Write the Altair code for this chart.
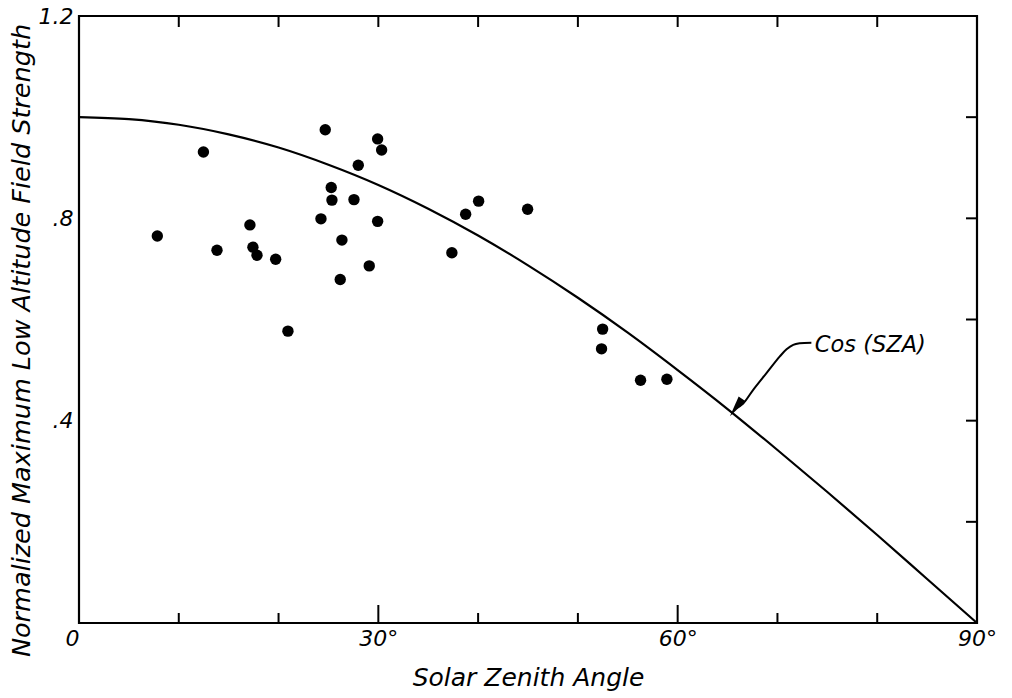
import altair as alt
import pandas as pd

# ---- data ----
sza = [7.85, 12.47, 13.83, 17.13, 17.43, 17.84, 19.71, 20.94, 24.68, 24.25,
       25.28, 25.35, 26.18, 26.35, 27.56, 27.99, 29.09, 29.93, 29.93, 30.33,
       37.37, 38.75, 40.05, 44.96, 52.48, 52.37, 56.28, 58.92]
field_strength = [0.765, 0.931, 0.737, 0.787, 0.743, 0.727, 0.719, 0.577, 0.975, 0.799,
                  0.861, 0.836, 0.679, 0.757, 0.837, 0.905, 0.706, 0.794, 0.957, 0.935,
                  0.732, 0.808, 0.834, 0.818, 0.581, 0.542, 0.480, 0.482]

curve_angle = [0, 5, 10, 15, 20, 25, 30, 35, 40, 45, 50, 55, 60, 65, 70, 75, 80, 85, 90]
curve_cos = [1.0, 0.996, 0.985, 0.966, 0.940, 0.906, 0.866, 0.819, 0.766, 0.707,
             0.643, 0.574, 0.5, 0.423, 0.342, 0.259, 0.174, 0.087, 0.0]

x_tick_values = [0, 30, 60, 90]
x_tick_labels = ["0", "30°", "60°", "90°"]
y_tick_values = [0, 0.4, 0.8, 1.2]
y_tick_labels = ["", ".4", ".8", "1.2"]

x_minor_ticks = [10, 20, 40, 50, 70, 80]
x_major_ticks = [30, 60]
x_top_ticks = [10, 20, 30, 40, 50, 60, 70, 80]
y_right_ticks = [0.2, 0.4, 0.6, 0.8, 1.0]

annot_text = "Cos (SZA)"
annot_pos_x = [73.75]
annot_pos_y = [0.536]
arrow_x = [73.4, 72.24, 71.58, 70.91, 70.24, 68.90, 67.57, 66.57, 65.9]
arrow_y = [0.554, 0.553, 0.550, 0.541, 0.527, 0.494, 0.461, 0.434, 0.425]
arrow_head_x = [65.85]
arrow_head_y = [0.426]

# ---- layout ----
W, H = 898, 607
FONT = "DejaVu Sans"

x_scale = alt.Scale(domain=[0, 90], nice=False, zero=False)
y_scale = alt.Scale(domain=[0, 1.2], nice=False, zero=False)


def label_expr(values, labels):
    expr = "''"
    for v, l in zip(reversed(values), reversed(labels)):
        expr = f"abs(datum.value - {v}) < 1e-6 ? '{l}' : ({expr})"
    return expr


x_axis = alt.Axis(
    values=x_tick_values, labelExpr=label_expr(x_tick_values, x_tick_labels),
    ticks=False, domain=False, grid=False,
    labelFont=FONT, labelFontSize=22, labelFontStyle="italic", labelColor="black",
    labelPadding=5,
    labelAlign={"condition": {"test": "datum.value == 0", "value": "right"}, "value": "center"},
    labelFlush=False, labelOverlap=False,
    title="Solar Zenith Angle", titleFont=FONT, titleFontSize=25, titleFontStyle="italic",
    titleFontWeight="normal", titleColor="black", titleX=449, titleY=62,
    titleBaseline="alphabetic", titleAlign="center",
)
y_axis = alt.Axis(
    values=y_tick_values, labelExpr=label_expr(y_tick_values, y_tick_labels),
    ticks=False, domain=False, grid=False,
    labelFont=FONT, labelFontSize=22, labelFontStyle="italic", labelColor="black",
    labelPadding=6, labelFlush=False, labelOverlap=False,
    title="Normalized Maximum Low Altitude Field Strength", titleFont=FONT, titleFontSize=25.5,
    titleFontStyle="italic", titleFontWeight="normal", titleColor="black",
    titleX=-50, titleY=324, titleAngle=270, titleBaseline="alphabetic", titleAlign="center",
)


def X(f):
    return alt.X(f, scale=x_scale, axis=x_axis)


def Y(f):
    return alt.Y(f, scale=y_scale, axis=y_axis)


pts_df = pd.DataFrame({"sza": sza, "field": field_strength})
points = alt.Chart(pts_df).mark_circle(size=130, color="black", opacity=1).encode(
    x=X("sza:Q"), y=Y("field:Q"))

curve_df = pd.DataFrame({"sza": curve_angle, "field": curve_cos})
curve = alt.Chart(curve_df).mark_line(color="black", strokeWidth=2.2, interpolate="monotone").encode(
    x=X("sza:Q"), y=Y("field:Q"))

tick_style = dict(color="black", strokeWidth=2)
bot_minor = alt.Chart(pd.DataFrame({"sza": x_minor_ticks})).mark_rule(**tick_style).encode(
    x=X("sza:Q"), y=alt.value(H), y2=alt.value(H - 10))
bot_major = alt.Chart(pd.DataFrame({"sza": x_major_ticks})).mark_rule(**tick_style).encode(
    x=X("sza:Q"), y=alt.value(H), y2=alt.value(H - 18))
top_ticks = alt.Chart(pd.DataFrame({"sza": x_top_ticks})).mark_rule(**tick_style).encode(
    x=X("sza:Q"), y=alt.value(0), y2=alt.value(11))
right_ticks = alt.Chart(pd.DataFrame({"field": y_right_ticks})).mark_rule(**tick_style).encode(
    y=Y("field:Q"), x=alt.value(W), x2=alt.value(W - 11))

arrow_df = pd.DataFrame({"sza": arrow_x, "field": arrow_y, "i": list(range(len(arrow_x)))})
arrow = alt.Chart(arrow_df).mark_line(color="black", strokeWidth=2, interpolate="catmull-rom").encode(
    x=X("sza:Q"), y=Y("field:Q"), order="i:Q")
head = alt.Chart(pd.DataFrame({"sza": arrow_head_x, "field": arrow_head_y})).mark_point(
    shape="M0,1L-0.4,-1L0.4,-1Z", filled=True, color="black", opacity=1, size=450, angle=35,
    strokeWidth=0,
).encode(x=X("sza:Q"), y=Y("field:Q"))
label = alt.Chart(pd.DataFrame({"sza": annot_pos_x, "field": annot_pos_y, "t": [annot_text]})).mark_text(
    align="left", baseline="alphabetic", font=FONT, fontSize=22.5, fontStyle="italic", color="black",
).encode(x=X("sza:Q"), y=Y("field:Q"), text="t:N")

chart = alt.layer(
    points, curve, bot_minor, bot_major, top_ticks, right_ticks, arrow, head, label
).properties(
    width=W, height=H, autosize="none",
    padding={"left": 79, "top": 16, "right": 35, "bottom": 75},
    background="white",
).configure_view(stroke="black", strokeWidth=2.2)

chart.save("out.html", embed_options={"renderer": "svg", "actions": False})
